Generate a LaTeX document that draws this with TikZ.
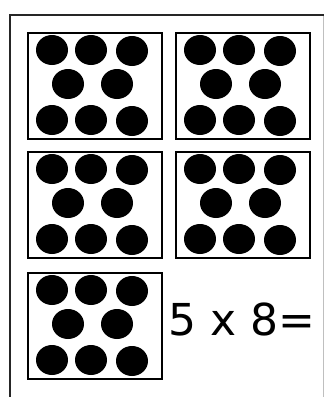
\documentclass[tikz,border=0pt]{standalone}
\usepackage{fontspec}
\newfontfamily\cardfont{DejaVu Sans}
\usetikzlibrary{calc, shapes.geometric}

\begin{document}
\begin{tikzpicture}[
    x=1pt, y=-1pt,
    frame/.style={line width=2pt, black!85},
    card/.style={draw, line width=2pt, minimum width=134pt, minimum height=106pt,
                 inner sep=0pt},
    dot/.style={ellipse, fill=black, minimum width=32pt, minimum height=30pt,
                inner sep=0pt},
    sum/.style={anchor=base west, inner sep=0pt,
                font=\cardfont\fontsize{44}{48}\selectfont}
]
\useasboundingbox (0,0) rectangle (324,397);
% ============== outer frame ==================
\coordinate (fb) at (10,397);
\coordinate (ft) at (10,15);
\coordinate (fr) at (324,15);
\coordinate (gt) at (323,15);
\coordinate (gb) at (323,397);
\draw[black!25, line width=0.8pt] (gt) -- (gb);
\draw[frame] (fb) -- (ft) -- (fr);
% ============== five cards of eight dots ==================
\foreach \n/\cx/\cy in {1/95/86, 2/243/86, 3/95/205, 4/243/205, 5/95/326} {
  \node[card] (c\n) at (\cx,\cy) {};
  \foreach \dx/\dy [count=\k] in {-43/-36, -4/-36, 37/-35,
                                  -27/-2, 22/-2,
                                  -43/34, -4/34, 37/35}
    \node[dot] (c\n-d\k) at ($(c\n)+(\dx,\dy)$) {};
}
% ============== the sum ==================
\node[sum] (s) at (168,335) {5 x 8=};
\end{tikzpicture}
\end{document}
